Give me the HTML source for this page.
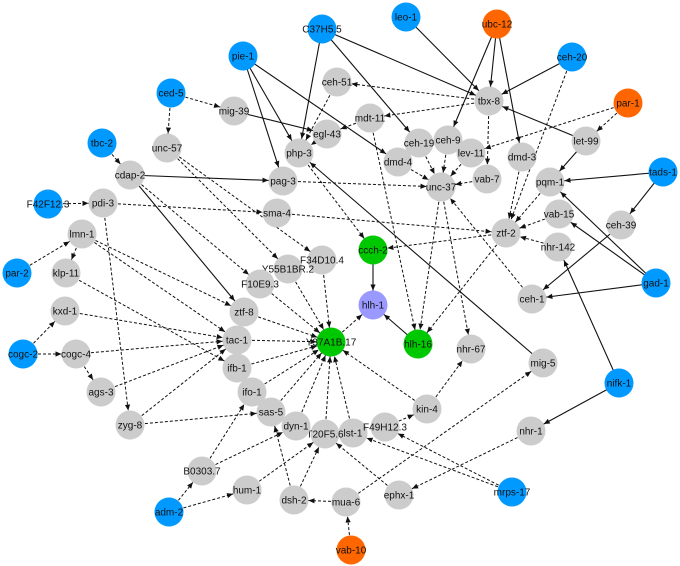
<!DOCTYPE html>
<html><head><meta charset="utf-8"><style>
html,body{margin:0;padding:0;background:#fff;}
svg{display:block;}
text{font-family:"Liberation Sans",Arial,sans-serif;font-size:10px;fill:#111;text-anchor:middle;}
</style></head><body>
<svg width="680" height="566" viewBox="0 0 680 566" xmlns="http://www.w3.org/2000/svg">
<defs>
<marker id="a" markerWidth="10" markerHeight="10" refX="14.5" refY="0" orient="auto" markerUnits="userSpaceOnUse" overflow="visible"><path d="M0,0 L-6,-2.6 L-6,2.6 z" fill="#111"/></marker>
</defs>
<g stroke="#111" stroke-width="1.1" marker-end="url(#a)" fill="none">
<line x1="406" y1="17" x2="489" y2="101"/>
<line x1="322" y1="29" x2="489" y2="101"/>
<line x1="497" y1="24" x2="489" y2="101"/>
<line x1="497" y1="24" x2="448" y2="140"/>
<line x1="497" y1="24" x2="522" y2="157"/>
<line x1="572" y1="57" x2="489" y2="101"/>
<line x1="586" y1="141" x2="489" y2="101"/>
<line x1="586" y1="141" x2="550" y2="182"/>
<line x1="663" y1="172" x2="550" y2="182"/>
<line x1="663" y1="172" x2="621" y2="225"/>
<line x1="656" y1="283" x2="550" y2="182"/>
<line x1="656" y1="283" x2="559" y2="214"/>
<line x1="656" y1="283" x2="532" y2="299"/>
<line x1="621" y1="225" x2="532" y2="299"/>
<line x1="619" y1="383" x2="558" y2="247"/>
<line x1="619" y1="383" x2="531" y2="431"/>
<line x1="543" y1="363" x2="299" y2="153"/>
<line x1="243" y1="56" x2="299" y2="153"/>
<line x1="243" y1="56" x2="283" y2="181"/>
<line x1="243" y1="56" x2="398" y2="162"/>
<line x1="322" y1="29" x2="299" y2="153"/>
<line x1="322" y1="29" x2="419" y2="143"/>
<line x1="234" y1="111" x2="327" y2="134"/>
<line x1="130" y1="175" x2="283" y2="181"/>
<line x1="130" y1="175" x2="244" y2="312"/>
<line x1="373" y1="250" x2="373" y2="305"/>
<line x1="418" y1="344" x2="373" y2="305"/>
</g>
<g stroke="#111" stroke-width="1" stroke-dasharray="3,2" marker-end="url(#a)" fill="none">
<line x1="171" y1="93" x2="234" y2="111"/>
<line x1="171" y1="93" x2="167" y2="148"/>
<line x1="102" y1="143" x2="130" y2="175"/>
<line x1="48" y1="204" x2="103" y2="203"/>
<line x1="17" y1="273" x2="82" y2="234"/>
<line x1="82" y1="234" x2="66" y2="273"/>
<line x1="23" y1="354" x2="65" y2="311"/>
<line x1="23" y1="354" x2="76" y2="354"/>
<line x1="76" y1="354" x2="101" y2="392"/>
<line x1="489" y1="101" x2="337" y2="82"/>
<line x1="489" y1="101" x2="370" y2="118"/>
<line x1="489" y1="101" x2="487" y2="179"/>
<line x1="628" y1="103" x2="586" y2="141"/>
<line x1="628" y1="103" x2="471" y2="153"/>
<line x1="572" y1="57" x2="506" y2="233"/>
<line x1="522" y1="157" x2="506" y2="233"/>
<line x1="550" y1="182" x2="506" y2="233"/>
<line x1="559" y1="214" x2="506" y2="233"/>
<line x1="558" y1="247" x2="506" y2="233"/>
<line x1="532" y1="299" x2="441" y2="187"/>
<line x1="506" y1="233" x2="373" y2="250"/>
<line x1="506" y1="233" x2="418" y2="344"/>
<line x1="370" y1="118" x2="418" y2="344"/>
<line x1="441" y1="187" x2="418" y2="344"/>
<line x1="441" y1="187" x2="471" y2="349"/>
<line x1="398" y1="162" x2="441" y2="187"/>
<line x1="419" y1="143" x2="441" y2="187"/>
<line x1="448" y1="140" x2="441" y2="187"/>
<line x1="471" y1="153" x2="441" y2="187"/>
<line x1="487" y1="179" x2="441" y2="187"/>
<line x1="283" y1="181" x2="441" y2="187"/>
<line x1="277" y1="213" x2="506" y2="233"/>
<line x1="103" y1="203" x2="277" y2="213"/>
<line x1="299" y1="153" x2="373" y2="250"/>
<line x1="167" y1="148" x2="322" y2="260"/>
<line x1="167" y1="148" x2="288" y2="269"/>
<line x1="130" y1="175" x2="260" y2="284"/>
<line x1="103" y1="203" x2="130" y2="425"/>
<line x1="82" y1="234" x2="244" y2="312"/>
<line x1="82" y1="234" x2="237" y2="340"/>
<line x1="66" y1="273" x2="237" y2="368"/>
<line x1="65" y1="311" x2="237" y2="340"/>
<line x1="76" y1="354" x2="237" y2="340"/>
<line x1="101" y1="392" x2="237" y2="340"/>
<line x1="130" y1="425" x2="237" y2="340"/>
<line x1="237" y1="340" x2="331" y2="342"/>
<line x1="237" y1="368" x2="331" y2="342"/>
<line x1="252" y1="392" x2="331" y2="342"/>
<line x1="271" y1="412" x2="331" y2="342"/>
<line x1="296" y1="426" x2="331" y2="342"/>
<line x1="325" y1="434" x2="331" y2="342"/>
<line x1="353" y1="433" x2="331" y2="342"/>
<line x1="427" y1="409" x2="331" y2="342"/>
<line x1="244" y1="312" x2="331" y2="342"/>
<line x1="260" y1="284" x2="331" y2="342"/>
<line x1="288" y1="269" x2="331" y2="342"/>
<line x1="322" y1="260" x2="331" y2="342"/>
<line x1="331" y1="342" x2="373" y2="305"/>
<line x1="202" y1="471" x2="252" y2="392"/>
<line x1="202" y1="471" x2="296" y2="426"/>
<line x1="130" y1="425" x2="271" y2="412"/>
<line x1="169" y1="512" x2="202" y2="471"/>
<line x1="169" y1="512" x2="247" y2="490"/>
<line x1="247" y1="490" x2="325" y2="434"/>
<line x1="294" y1="500" x2="325" y2="434"/>
<line x1="294" y1="500" x2="271" y2="412"/>
<line x1="346" y1="502" x2="294" y2="500"/>
<line x1="351" y1="550" x2="346" y2="502"/>
<line x1="346" y1="502" x2="543" y2="363"/>
<line x1="399" y1="495" x2="325" y2="434"/>
<line x1="512" y1="492" x2="385" y2="427"/>
<line x1="512" y1="492" x2="353" y2="433"/>
<line x1="531" y1="431" x2="399" y2="495"/>
<line x1="427" y1="409" x2="471" y2="349"/>
<line x1="385" y1="427" x2="427" y2="409"/>
<line x1="337" y1="82" x2="299" y2="153"/>
<line x1="327" y1="134" x2="299" y2="153"/>
<line x1="370" y1="118" x2="327" y2="134"/>
</g>
<g>
<circle cx="406" cy="17" r="14.5" fill="#0099FF"/><text x="406" y="20.5">leo-1</text>
<circle cx="497" cy="24" r="14.5" fill="#FF6600"/><text x="497" y="27.5">ubc-12</text>
<circle cx="322" cy="29" r="14.5" fill="#0099FF"/><text x="322" y="32.5">C37H5.5</text>
<circle cx="572" cy="57" r="14.5" fill="#0099FF"/><text x="572" y="60.5">ceh-20</text>
<circle cx="243" cy="56" r="14.5" fill="#0099FF"/><text x="243" y="59.5">pie-1</text>
<circle cx="171" cy="93" r="14.5" fill="#0099FF"/><text x="171" y="96.5">ced-5</text>
<circle cx="337" cy="82" r="14.5" fill="#CCCCCC"/><text x="337" y="85.5">ceh-51</text>
<circle cx="489" cy="101" r="14.5" fill="#CCCCCC"/><text x="489" y="104.5">tbx-8</text>
<circle cx="628" cy="103" r="14.5" fill="#FF6600"/><text x="628" y="106.5">par-1</text>
<circle cx="234" cy="111" r="14.5" fill="#CCCCCC"/><text x="234" y="114.5">mig-39</text>
<circle cx="370" cy="118" r="14.5" fill="#CCCCCC"/><text x="370" y="121.5">mdt-11</text>
<circle cx="327" cy="134" r="14.5" fill="#CCCCCC"/><text x="327" y="137.5">egl-43</text>
<circle cx="102" cy="143" r="14.5" fill="#0099FF"/><text x="102" y="146.5">tbc-2</text>
<circle cx="167" cy="148" r="14.5" fill="#CCCCCC"/><text x="167" y="151.5">unc-57</text>
<circle cx="419" cy="143" r="14.5" fill="#CCCCCC"/><text x="419" y="146.5">ceh-19</text>
<circle cx="448" cy="140" r="14.5" fill="#CCCCCC"/><text x="448" y="143.5">ceh-9</text>
<circle cx="471" cy="153" r="14.5" fill="#CCCCCC"/><text x="471" y="156.5">lev-11</text>
<circle cx="586" cy="141" r="14.5" fill="#CCCCCC"/><text x="586" y="144.5">let-99</text>
<circle cx="522" cy="157" r="14.5" fill="#CCCCCC"/><text x="522" y="160.5">dmd-3</text>
<circle cx="299" cy="153" r="14.5" fill="#CCCCCC"/><text x="299" y="156.5">php-3</text>
<circle cx="398" cy="162" r="14.5" fill="#CCCCCC"/><text x="398" y="165.5">dmd-4</text>
<circle cx="663" cy="172" r="14.5" fill="#0099FF"/><text x="663" y="175.5">tads-1</text>
<circle cx="130" cy="175" r="14.5" fill="#CCCCCC"/><text x="130" y="178.5">cdap-2</text>
<circle cx="487" cy="179" r="14.5" fill="#CCCCCC"/><text x="487" y="182.5">vab-7</text>
<circle cx="550" cy="182" r="14.5" fill="#CCCCCC"/><text x="550" y="185.5">pqm-1</text>
<circle cx="283" cy="181" r="14.5" fill="#CCCCCC"/><text x="283" y="184.5">pag-3</text>
<circle cx="441" cy="187" r="14.5" fill="#CCCCCC"/><text x="441" y="190.5">unc-37</text>
<circle cx="48" cy="204" r="14.5" fill="#0099FF"/><text x="48" y="207.5">F42F12.3</text>
<circle cx="103" cy="203" r="14.5" fill="#CCCCCC"/><text x="103" y="206.5">pdi-3</text>
<circle cx="277" cy="213" r="14.5" fill="#CCCCCC"/><text x="277" y="216.5">sma-4</text>
<circle cx="559" cy="214" r="14.5" fill="#CCCCCC"/><text x="559" y="217.5">vab-15</text>
<circle cx="621" cy="225" r="14.5" fill="#CCCCCC"/><text x="621" y="228.5">ceh-39</text>
<circle cx="82" cy="234" r="14.5" fill="#CCCCCC"/><text x="82" y="237.5">lmn-1</text>
<circle cx="506" cy="233" r="14.5" fill="#CCCCCC"/><text x="506" y="236.5">ztf-2</text>
<circle cx="558" cy="247" r="14.5" fill="#CCCCCC"/><text x="558" y="250.5">nhr-142</text>
<circle cx="373" cy="250" r="14.5" fill="#00C800"/><text x="373" y="253.5">ccch-2</text>
<circle cx="322" cy="260" r="14.5" fill="#CCCCCC"/><text x="322" y="263.5">F34D10.4</text>
<circle cx="288" cy="269" r="14.5" fill="#CCCCCC"/><text x="288" y="272.5">Y55B1BR.2</text>
<circle cx="17" cy="273" r="14.5" fill="#0099FF"/><text x="17" y="276.5">par-2</text>
<circle cx="66" cy="273" r="14.5" fill="#CCCCCC"/><text x="66" y="276.5">klp-11</text>
<circle cx="656" cy="283" r="14.5" fill="#0099FF"/><text x="656" y="286.5">gad-1</text>
<circle cx="260" cy="284" r="14.5" fill="#CCCCCC"/><text x="260" y="287.5">F10E9.3</text>
<circle cx="532" cy="299" r="14.5" fill="#CCCCCC"/><text x="532" y="302.5">ceh-1</text>
<circle cx="373" cy="305" r="14.5" fill="#9999FF"/><text x="373" y="308.5">hlh-1</text>
<circle cx="65" cy="311" r="14.5" fill="#CCCCCC"/><text x="65" y="314.5">kxd-1</text>
<circle cx="244" cy="312" r="14.5" fill="#CCCCCC"/><text x="244" y="315.5">ztf-8</text>
<circle cx="237" cy="340" r="14.5" fill="#CCCCCC"/><text x="237" y="343.5">tac-1</text>
<circle cx="331" cy="342" r="14.5" fill="#00C800"/><text x="331" y="345.5">Y37A1B.17</text>
<circle cx="418" cy="344" r="14.5" fill="#00C800"/><text x="418" y="347.5">hlh-16</text>
<circle cx="471" cy="349" r="14.5" fill="#CCCCCC"/><text x="471" y="352.5">nhr-67</text>
<circle cx="23" cy="354" r="14.5" fill="#0099FF"/><text x="23" y="357.5">cogc-2</text>
<circle cx="76" cy="354" r="14.5" fill="#CCCCCC"/><text x="76" y="357.5">cogc-4</text>
<circle cx="543" cy="363" r="14.5" fill="#CCCCCC"/><text x="543" y="366.5">mig-5</text>
<circle cx="237" cy="368" r="14.5" fill="#CCCCCC"/><text x="237" y="371.5">ifb-1</text>
<circle cx="619" cy="383" r="14.5" fill="#0099FF"/><text x="619" y="386.5">nifk-1</text>
<circle cx="101" cy="392" r="14.5" fill="#CCCCCC"/><text x="101" y="395.5">ags-3</text>
<circle cx="252" cy="392" r="14.5" fill="#CCCCCC"/><text x="252" y="395.5">ifo-1</text>
<circle cx="427" cy="409" r="14.5" fill="#CCCCCC"/><text x="427" y="412.5">kin-4</text>
<circle cx="271" cy="412" r="14.5" fill="#CCCCCC"/><text x="271" y="415.5">sas-5</text>
<circle cx="130" cy="425" r="14.5" fill="#CCCCCC"/><text x="130" y="428.5">zyg-8</text>
<circle cx="353" cy="433" r="14.5" fill="#CCCCCC"/>
<circle cx="325" cy="434" r="14.5" fill="#CCCCCC"/><text x="325" y="437.5">T20F5.6</text>
<text x="353" y="436.5">lst-1</text>
<circle cx="296" cy="426" r="14.5" fill="#CCCCCC"/><text x="296" y="429.5">dyn-1</text>
<circle cx="385" cy="427" r="14.5" fill="#CCCCCC"/><text x="385" y="430.5">F49H12.3</text>
<circle cx="531" cy="431" r="14.5" fill="#CCCCCC"/><text x="531" y="434.5">nhr-1</text>
<circle cx="202" cy="471" r="14.5" fill="#CCCCCC"/><text x="202" y="474.5">B0303.7</text>
<circle cx="247" cy="490" r="14.5" fill="#CCCCCC"/><text x="247" y="493.5">hum-1</text>
<circle cx="399" cy="495" r="14.5" fill="#CCCCCC"/><text x="399" y="498.5">ephx-1</text>
<circle cx="294" cy="500" r="14.5" fill="#CCCCCC"/><text x="294" y="503.5">dsh-2</text>
<circle cx="346" cy="502" r="14.5" fill="#CCCCCC"/><text x="346" y="505.5">mua-6</text>
<circle cx="512" cy="492" r="14.5" fill="#0099FF"/><text x="512" y="495.5">mrps-17</text>
<circle cx="169" cy="512" r="14.5" fill="#0099FF"/><text x="169" y="515.5">adm-2</text>
<circle cx="351" cy="550" r="14.5" fill="#FF6600"/><text x="351" y="553.5">vab-10</text>
</g>
</svg>
</body></html>
